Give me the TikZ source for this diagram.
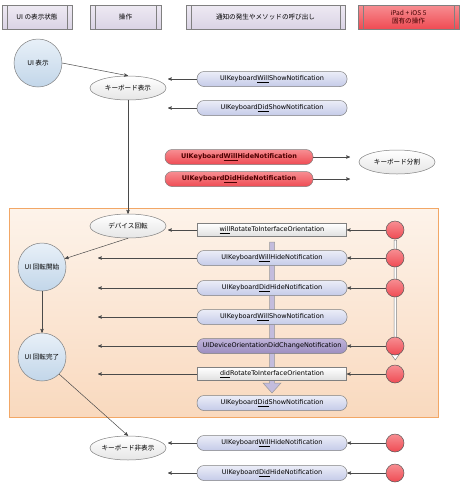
\documentclass[tikz,border=0pt]{standalone}
\usepackage{fontspec}
\setmainfont{DejaVu Sans}
\newfontfamily\jp{Noto Sans CJK JP}
\usetikzlibrary{shapes,arrows,positioning}

\definecolor{hdrtop}{HTML}{EEEAF3}
\definecolor{hdrbot}{HTML}{DAD3E5}
\definecolor{redtop}{HTML}{F78E92}
\definecolor{redbot}{HTML}{EF4B53}
\definecolor{bluetop}{HTML}{E8F0F8}
\definecolor{bluebot}{HTML}{C2D6E9}
\definecolor{notetop}{HTML}{EBEDF8}
\definecolor{notebot}{HTML}{C5CBE8}
\definecolor{devtop}{HTML}{BFB3D9}
\definecolor{devbot}{HTML}{9C8EC0}
\definecolor{zonetop}{HTML}{FDF3EA}
\definecolor{zonebot}{HTML}{F9D9BE}
\definecolor{zoneline}{HTML}{F2A766}
\definecolor{barcol}{HTML}{C3BCDD}
\definecolor{linecol}{HTML}{4A4A4A}

\newcommand\jpfont{\jp\fontsize{6.6}{8.5}\selectfont}

\tikzset{
	hdr/.style={draw=gray,top color=hdrtop,bottom color=hdrbot,minimum height=24pt,inner sep=1pt,font=\jpfont,
		path picture={\draw[gray] ([xshift=5pt]path picture bounding box.north west) -- ([xshift=5pt]path picture bounding box.south west)
			([xshift=-5pt]path picture bounding box.north east) -- ([xshift=-5pt]path picture bounding box.south east);}},
	zone/.style={draw=zoneline,top color=zonetop,bottom color=zonebot,inner sep=0pt},
	state/.style={circle,draw=gray,top color=bluetop,bottom color=bluebot,minimum size=48pt,inner sep=0pt,font=\jpfont},
	op/.style={ellipse,draw=gray,top color=white,bottom color=gray!20,minimum width=76pt,minimum height=24pt,inner sep=0pt,font=\jpfont},
	note/.style={rounded corners=7pt,draw=gray,top color=notetop,bottom color=notebot,minimum width=150pt,minimum height=15pt,inner sep=0pt},
	hot/.style={note,top color=redtop,bottom color=redbot,minimum width=148pt,font=\bfseries\fontsize{6.5}{8}\selectfont,text=black!70!red},
	dev/.style={note,top color=devtop,bottom color=devbot},
	meth/.style={draw=gray,top color=white,bottom color=gray!25,minimum width=149pt,minimum height=13pt,inner sep=0pt},
	ev/.style={circle,draw=gray!70!black,top color=redtop,bottom color=redbot,minimum size=18pt,inner sep=0pt},
	bar/.style={draw=gray!80,fill=barcol},
	warr/.style={draw=gray,fill=white}
}

\begin{document}
\begin{tikzpicture}[x=1pt,y=-1pt,font=\fontsize{6.5}{8}\selectfont,>=stealth',line width=0.5pt]
	\useasboundingbox (0,0) rectangle (460,488);

	% 見出し
	\foreach \t/\x/\w [count=\n] in {UI の表示状態/37/70,操作/125.5/71,通知の発生やメソッドの呼び出し/265.5/159}
		\node[hdr,minimum width=\w] (H\n) at (\x,17) {\t};
	\node[hdr,minimum width=101,top color=redtop,bottom color=redbot,align=center,text=black!75!red] (H4) at (408.5,17) {iPad + iOS 5\\固有の操作};

	% iOS 5 の範囲
	\node[zone,anchor=north west,minimum width=429,minimum height=209] (Z) at (9,208) {};

	% 状態
	\node[state] (S1) at (38,63) {UI 表示};
	\node[state] (S2) at (42,267) {UI 回転開始};
	\node[state] (S3) at (42,357) {UI 回転完了};

	% 操作
	\node[op] (K1) at (128,88) {キーボード表示};
	\node[op] (K2) at (128,226) {デバイス回転};
	\node[op] (K3) at (128,448) {キーボード非表示};
	\node[op] (K4) at (397,162) {キーボード分割};

	\coordinate (L1) at (168,0);
	\coordinate (L2) at (98,0);
	\coordinate (L3) at (350,0);

	% 通知
	\node[note] (A1) at (272,79) {UIKeyboard\underline{Will}ShowNotification};
	\node[note] (A2) at (272,108) {UIKeyboard\underline{Did}ShowNotification};
	\node[hot] (R1) at (239,157) {UIKeyboard\underline{Will}HideNotification};
	\node[hot] (R2) at (239,179) {UIKeyboard\underline{Did}HideNotification};

	\draw[bar] (269.5,242) -- (274.5,242) -- (274.5,383) -- (281,383) -- (272,393) -- (263,383) -- (269.5,383) -- cycle;
	\draw[warr] (394,240) -- (396.5,240) -- (396.5,354) -- (399.5,354) -- (395.25,360) -- (391,354) -- (394,354) -- cycle;

	\node[meth] (W) at (272,230) {\underline{will}RotateToInterfaceOrientation};
	\foreach \t/\y [count=\n] in {UIKeyboard\underline{Will}HideNotification/258,UIKeyboard\underline{Did}HideNotification/288,UIKeyboard\underline{Will}ShowNotification/317}
		\node[note] (B\n) at (272,\y) {\t};
	\node[dev] (B4) at (272,346) {UIDeviceOrientationDidChangeNotification};
	\node[meth] (D) at (272,374) {\underline{did}RotateToInterfaceOrientation};
	\node[note] (B5) at (272,403) {UIKeyboard\underline{Did}ShowNotification};
	\node[note] (C1) at (272,443) {UIKeyboard\underline{Will}HideNotification};
	\node[note] (C2) at (272,473) {UIKeyboard\underline{Did}HideNotification};

	\foreach \y [count=\n] in {230,258,288,346,374,443,473}
		\node[ev] (E\n) at (395,\y) {};

	% 矢印
	\path[->,linecol]
		(S1.east) edge (K1.north)
		(K1.south) edge (K2.north)
		(K2.south) edge (S2.20)
		(S2.south) edge (S3.north)
		(S3.south east) edge (K3.north);
	\foreach \n in {A1,A2,W,C1,C2}
		\draw[->,linecol] (\n.west) -- (\n.west -| L1);
	\foreach \n in {B1,B2,B3,B4,D}
		\draw[->,linecol] (\n.west) -- (\n.west -| L2);
	\foreach \n in {R1,R2}
		\draw[->,linecol] (\n.east) -- (\n.east -| L3);
	\foreach \a/\b in {E1/W,E2/B1,E3/B2,E4/B4,E5/D,E6/C1,E7/C2}
		\draw[->,linecol] (\a) -- (\b);
\end{tikzpicture}
\end{document}
